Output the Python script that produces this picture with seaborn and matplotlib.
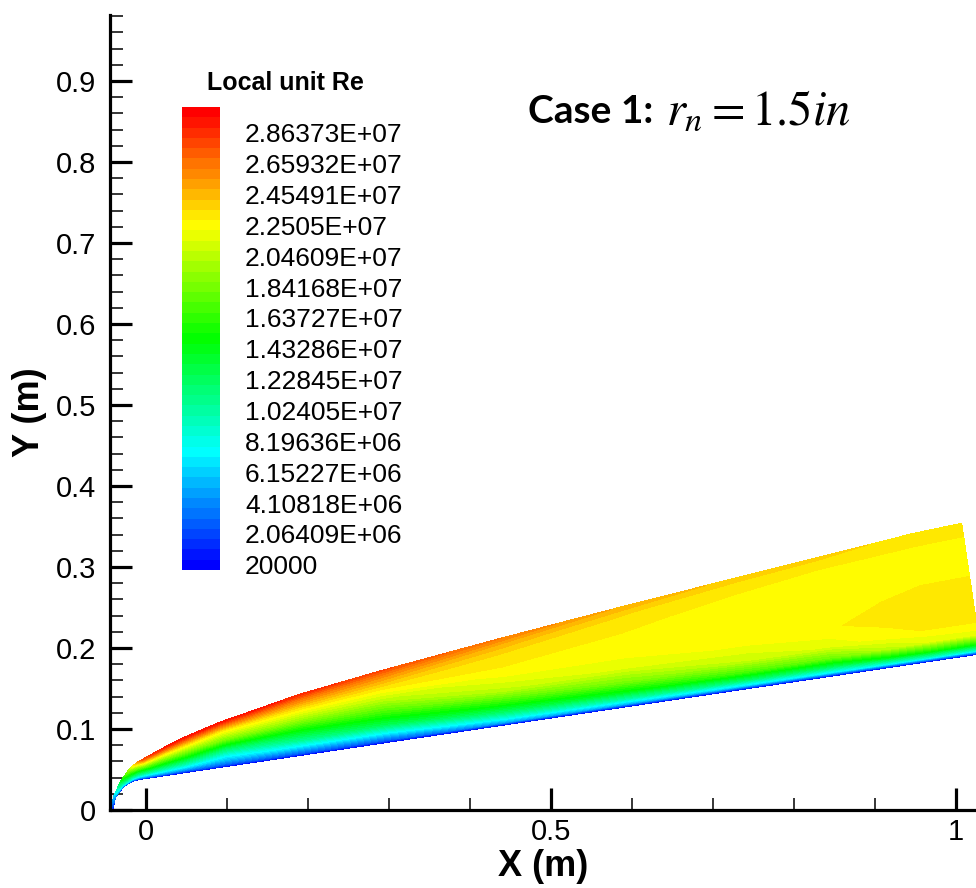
import numpy as np
import matplotlib
matplotlib.use("Agg")
import matplotlib.pyplot as plt
from matplotlib.colors import ListedColormap, BoundaryNorm
from matplotlib.cm import ScalarMappable
from matplotlib.ticker import MultipleLocator, FuncFormatter
import seaborn as sns

# ---------------- data ----------------
# contour legend (Tecplot style: 45 levels, labelled every 3rd)
re_min = 20000.0
re_max = 3.0e7
n_levels = 45
legend_labels = ["20000", "2.06409E+06", "4.10818E+06", "6.15227E+06", "8.19636E+06",
                 "1.02405E+07", "1.22845E+07", "1.43286E+07", "1.63727E+07", "1.84168E+07",
                 "2.04609E+07", "2.2505E+07", "2.45491E+07", "2.65932E+07", "2.86373E+07"]
rainbow_anchors = ["#0000ff", "#00ffff", "#00ff00", "#ffff00", "#ff0000"]

# computational stations: wall point and shock point (m)
wall_x = [-0.0410, -0.0374, -0.0274, -0.0160, -0.0086, 0.000, 0.025, 0.050, 0.100, 0.150,
          0.200, 0.300, 0.450, 0.600, 0.750, 0.850, 0.920, 0.970, 1.031]
wall_y = [0.0000, 0.0161, 0.0291, 0.0357, 0.0376, 0.0389, 0.0426, 0.0464, 0.0539, 0.0613,
          0.0688, 0.0838, 0.1061, 0.1285, 0.1509, 0.1658, 0.1763, 0.1838, 0.1929]
shock_x = [-0.0435, -0.0397, -0.0319, -0.0211, -0.0117, -0.0036, 0.0200, 0.0437, 0.0918,
           0.1404, 0.1889, 0.2869, 0.4343, 0.5819, 0.7296, 0.8282, 0.8972, 0.9465, 1.0070]
shock_y = [0.0000, 0.0171, 0.0345, 0.0498, 0.0584, 0.0630, 0.0760, 0.0884, 0.1087,
           0.1256, 0.1427, 0.1711, 0.2111, 0.2495, 0.2869, 0.3116, 0.3288, 0.3413, 0.3540]
# fraction of the shock layer, wall (0) -> shock (1)
eta = [0.0, 0.03, 0.08, 0.15, 0.25, 0.4, 0.6, 0.8, 0.92, 1.0]
# local unit Reynolds number (millions per m) at each station / eta
re_millions = [
    [0.02, 0.3, 0.6, 0.8, 1.0, 1.1, 1.2, 1.3, 1.4, 1.5],
    [0.02, 1.0, 2.5, 3.5, 4.5, 5.0, 5.5, 5.8, 6.0, 6.2],
    [0.02, 2.0, 4.0, 6.0, 8.0, 9.5, 11.0, 12.0, 12.8, 13.2],
    [0.02, 2.0, 4.5, 7.0, 9.5, 12.0, 15.0, 17.5, 19.0, 20.0],
    [0.02, 2.0, 4.5, 7.0, 10.0, 13.0, 17.0, 21.0, 23.5, 25.0],
    [0.02, 2.0, 4.5, 7.0, 10.0, 13.5, 18.0, 23.0, 26.0, 28.0],
    [0.02, 2.0, 4.5, 7.0, 10.0, 13.8, 18.5, 23.5, 27.0, 29.0],
    [0.02, 2.0, 4.5, 7.0, 10.0, 14.0, 19.0, 24.0, 27.5, 29.5],
    [0.02, 2.0, 3.8, 5.7, 8.0, 12.3, 18.6, 23.0, 27.0, 29.5],
    [0.02, 2.2, 4.2, 6.5, 9.4, 13.4, 19.2, 23.4, 26.8, 29.2],
    [0.02, 2.4, 4.5, 7.2, 10.8, 14.5, 19.7, 23.8, 26.5, 28.8],
    [0.02, 2.6, 5.0, 8.2, 12.5, 16.3, 20.5, 23.8, 25.9, 27.8],
    [0.02, 5.0, 8.3, 12.0, 15.8, 20.5, 22.6, 23.3, 24.6, 26.3],
    [0.02, 5.5, 10.0, 14.5, 18.5, 21.8, 22.6, 22.95, 23.6, 24.8],
    [0.02, 6.5, 12.0, 17.0, 20.8, 22.3, 22.6, 22.7, 23.0, 24.0],
    [0.02, 7.0, 12.5, 18.0, 21.7, 22.75, 22.6, 22.6, 22.9, 23.8],
    [0.02, 8.0, 14.5, 20.5, 22.6, 23.1, 22.7, 22.6, 22.9, 23.5],
    [0.02, 8.5, 15.5, 21.5, 22.9, 23.2, 22.83, 22.6, 22.9, 23.4],
    [0.02, 8.5, 15.5, 21.8, 22.95, 23.25, 22.83, 22.6, 22.9, 23.4],
]

# ---------------- style ----------------
sns.set_theme(style="ticks")
plt.rcParams["font.family"] = ["Liberation Sans", "DejaVu Sans"]
plt.rcParams["axes.edgecolor"] = "black"
plt.rcParams["xtick.color"] = "black"
plt.rcParams["ytick.color"] = "black"
plt.rcParams["text.color"] = "black"
plt.rcParams["axes.labelcolor"] = "black"

W, H = 976, 888
fig = plt.figure(figsize=(W / 100, H / 100), dpi=100)
fig.patch.set_facecolor("white")


def fx(px):
    return px / W


def fy(py):
    return 1 - py / H


# axes: left spine at px 110, bottom at px 810, top at px 15, right at fig edge
ax = fig.add_axes([fx(110), fy(810), fx(976) - fx(110), fy(15) - fy(810)])
ax.set_facecolor("white")

# level structure
levels = np.linspace(re_min, re_max, n_levels)
step = levels[1] - levels[0]
bounds = np.concatenate([levels - step / 2, [levels[-1] + step / 2]])
colors = sns.blend_palette(rainbow_anchors, n_colors=n_levels)
cmap = ListedColormap(colors)
cmap.set_under(colors[0])
cmap.set_over(colors[-1])
norm = BoundaryNorm(bounds, cmap.N)

# structured grid between wall and shock
wx, wy = np.array(wall_x), np.array(wall_y)
sx, sy = np.array(shock_x), np.array(shock_y)
e = np.array(eta)
X = wx[:, None] + e[None, :] * (sx - wx)[:, None]
Y = wy[:, None] + e[None, :] * (sy - wy)[:, None]
Z = np.array(re_millions) * 1e6

ax.contourf(X, Y, Z, levels=bounds, cmap=cmap, norm=norm, extend="both",
            antialiased=False)

ax.set_xlim(-0.0444, 1.0247)
ax.set_ylim(0, 0.9815)
sns.despine(ax=ax)
for s in ["left", "bottom"]:
    ax.spines[s].set_linewidth(2.3)
    ax.spines[s].set_color("black")

ax.xaxis.set_major_locator(MultipleLocator(0.5))
ax.xaxis.set_minor_locator(MultipleLocator(0.1))
ax.yaxis.set_major_locator(MultipleLocator(0.1))
ax.yaxis.set_minor_locator(MultipleLocator(0.02))
fmt = FuncFormatter(lambda v, p: f"{v:g}")
ax.xaxis.set_major_formatter(fmt)
ax.yaxis.set_major_formatter(fmt)
ax.tick_params(which="major", direction="in", length=16, width=2.3, labelsize=21,
               colors="black")
ax.tick_params(which="minor", direction="in", length=9, width=1.1, colors="black")
ax.tick_params(axis="y", which="major", pad=10)
ax.tick_params(axis="x", which="major", pad=6)

ax.set_xlabel("X (m)", fontsize=26, fontweight="bold", labelpad=2)
ax.set_ylabel("Y (m)", fontsize=26, fontweight="bold", labelpad=6)

# colour legend
cax = fig.add_axes([fx(182), fy(570), fx(220) - fx(182), fy(107) - fy(570)])
sm = ScalarMappable(norm=norm, cmap=cmap)
cb = fig.colorbar(sm, cax=cax, ticks=levels[::3], drawedges=False)
cb.ax.minorticks_off()
cb.ax.set_yticklabels(legend_labels)
cb.outline.set_visible(False)
cb.ax.tick_params(which="both", length=0, labelsize=19, pad=18, colors="black")
fig.text(fx(285), fy(83), "Local unit Re", fontsize=18, fontweight="bold",
         ha="center", va="center")

# annotation
fig.text(fx(528), fy(123), "Case 1:", fontsize=28, fontweight="bold",
         family=["Lato", "DejaVu Sans"], ha="left", va="baseline")
fig.text(fx(666), fy(124), r"$r_n=1.5in$", fontsize=35, math_fontfamily="stix",
         ha="left", va="baseline")

fig.savefig("out.png", dpi=100, facecolor="white")
